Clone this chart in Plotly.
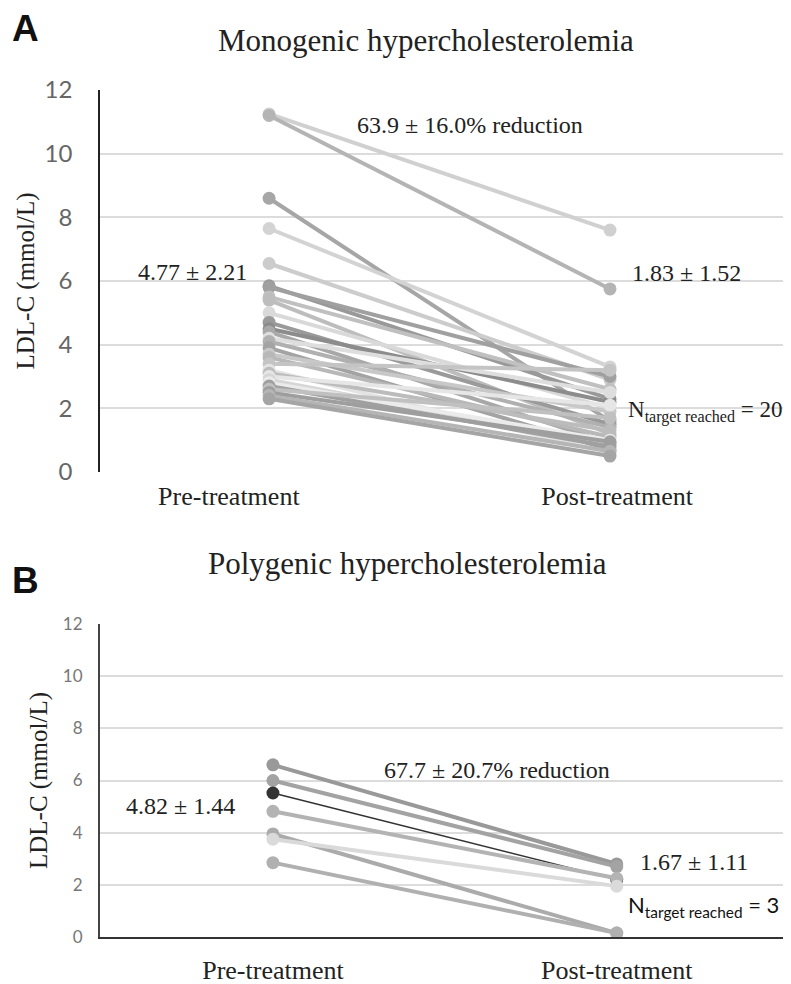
import plotly.graph_objects as go

categories = ["Pre-treatment", "Post-treatment"]

# Panel A: monogenic hypercholesterolemia (mmol/L)
mono_pre = [11.25, 11.2, 8.6, 7.65, 6.55, 5.85, 5.8, 5.5, 5.4, 5.0, 4.7, 4.5, 4.4, 4.2, 4.1,
            3.9, 3.7, 3.6, 3.4, 3.2, 3.1, 3.0, 2.9, 2.8, 2.7, 2.6, 2.5, 2.4, 2.3]
mono_post = [7.6, 5.75, 1.6, 3.3, 2.9, 2.3, 3.0, 2.6, 1.2, 2.0, 1.5, 2.2, 0.9, 2.5, 1.4,
             0.7, 1.9, 1.1, 3.2, 0.6, 1.3, 2.1, 0.85, 1.0, 0.8, 1.7, 0.95, 0.65, 0.5]
mono_colors = ["#d0d0d0", "#b4b4b4", "#a6a6a6", "#d3d3d3", "#cccccc", "#999999", "#a0a0a0",
               "#c0c0c0", "#bdbdbd", "#d9d9d9", "#9a9a9a", "#8c8c8c", "#a8a8a8", "#dedede",
               "#b0b0b0", "#a3a3a3", "#c8c8c8", "#b8b8b8", "#c4c4c4", "#e3e3e3", "#bcbcbc",
               "#e6e6e6", "#d6d6d6", "#ebebeb", "#a0a0a0", "#c0c0c0", "#9e9e9e", "#b5b5b5",
               "#a5a5a5"]

# Panel B: polygenic hypercholesterolemia (mmol/L)
poly_pre = [6.6, 6.0, 5.52, 4.82, 3.95, 3.75, 2.85]
poly_post = [2.8, 2.7, 2.2, 2.25, 0.15, 1.95, 0.15]
poly_colors = ["#999999", "#a3a3a3", "#333333", "#b3b3b3", "#ababab", "#dadada", "#b0b0b0"]
poly_widths = [4, 4, 1.5, 4, 4, 4, 4]

# page has an 8px body margin: figure is placed at (8, 8) in the window
OFF = 8
W, H = 791 - OFF, 984 - OFF
fig = go.Figure()

for pre, post, c in zip(mono_pre, mono_post, mono_colors):
    fig.add_trace(go.Scatter(x=[1, 2], y=[pre, post], mode="lines+markers",
                             line=dict(color=c, width=4), marker=dict(color=c, size=13),
                             xaxis="x", yaxis="y", showlegend=False, hoverinfo="y"))

for pre, post, c, w in zip(poly_pre, poly_post, poly_colors, poly_widths):
    fig.add_trace(go.Scatter(x=[1, 2], y=[pre, post], mode="lines+markers",
                             line=dict(color=c, width=w), marker=dict(color=c, size=13),
                             xaxis="x2", yaxis="y2", showlegend=False, hoverinfo="y"))

def px_x(p):
    return min(1.0, max(0.0, (p - OFF) / W))

def py_y(p):
    return min(1.0, max(0.0, 1 - (p - OFF) / H))

serif = "Liberation Serif, Times New Roman, serif"
sans = "Lato, Carlito, Calibri, Open Sans, sans-serif"

fig.update_layout(
    width=W, height=H, margin=dict(l=0, r=0, t=0, b=0),
    paper_bgcolor="white", plot_bgcolor="white",
    xaxis=dict(domain=[px_x(100), px_x(790)], range=[0.504, 2.528],
               tickvals=[0.882, 2.021], ticktext=categories,
               tickfont=dict(family=serif, size=26, color="#222"),
               showgrid=False, zeroline=False, showline=False, ticks="",
               ticklabelstandoff=6, anchor="y", automargin=False),
    yaxis=dict(domain=[py_y(472), py_y(90)], range=[0, 12], dtick=2,
               tickfont=dict(family=sans, size=24, color="#666"),
               gridcolor="#dcdcdc", gridwidth=1.5, zeroline=False,
               showline=True, linecolor="#222", linewidth=1.5, ticks="",
               ticklabelstandoff=21, anchor="x", automargin=False,
               title=dict(text="LDL-C (mmol/L)", font=dict(family=serif, size=25, color="#222"),
                          standoff=3)),
    xaxis2=dict(domain=[px_x(100), px_x(790)], range=[0.497, 2.504],
                tickvals=[1, 2], ticktext=categories,
                tickfont=dict(family=serif, size=26, color="#222"),
                showgrid=False, zeroline=False, showline=True, linecolor="#333", linewidth=2,
                ticks="", ticklabelstandoff=9, anchor="y2", automargin=False),
    yaxis2=dict(domain=[py_y(937), py_y(624)], range=[0, 12], dtick=2,
                tickfont=dict(family=sans, size=17, color="#777"),
                gridcolor="#dcdcdc", gridwidth=1.5, zeroline=False,
                showline=True, linecolor="#444", linewidth=2, ticks="",
                ticklabelstandoff=12, anchor="x2", automargin=False,
                title=dict(text="LDL-C (mmol/L)", font=dict(family=serif, size=25, color="#222"),
                           standoff=8)),
)

def ann(text, x, y, size=24, family=serif, color="#222", xanchor="center", bold=False):
    fig.add_annotation(text=("<b>%s</b>" % text) if bold else text,
                       x=px_x(x), y=py_y(y), xref="paper", yref="paper",
                       showarrow=False, xanchor=xanchor, yanchor="middle",
                       font=dict(family=family, size=size, color=color))

ann("A", 10, 29, size=37, family="Liberation Sans, Arial, sans-serif", color="#111", xanchor="left", bold=True)
ann("B", 10, 580, size=37, family="Liberation Sans, Arial, sans-serif", color="#111", xanchor="left", bold=True)
ann("Monogenic hypercholesterolemia", 426, 40, size=31)
ann("Polygenic hypercholesterolemia", 407, 563, size=31)

ann("4.77 ± 2.21", 192, 272)
ann("63.9 ± 16.0% reduction", 470, 125)
ann("1.83 ± 1.52", 686, 273)
ann("N<sub>target reached</sub> = 20", 626, 412, size=23, xanchor="left")

ann("4.82 ± 1.44", 180, 806)
ann("67.7 ± 20.7% reduction", 497, 770)
ann("1.67 ± 1.11", 694, 862)
ann("N<sub>target reached</sub> = 3", 626, 906, family=sans, color="#111", size=22, xanchor="left")

fig.write_html("out.html")
